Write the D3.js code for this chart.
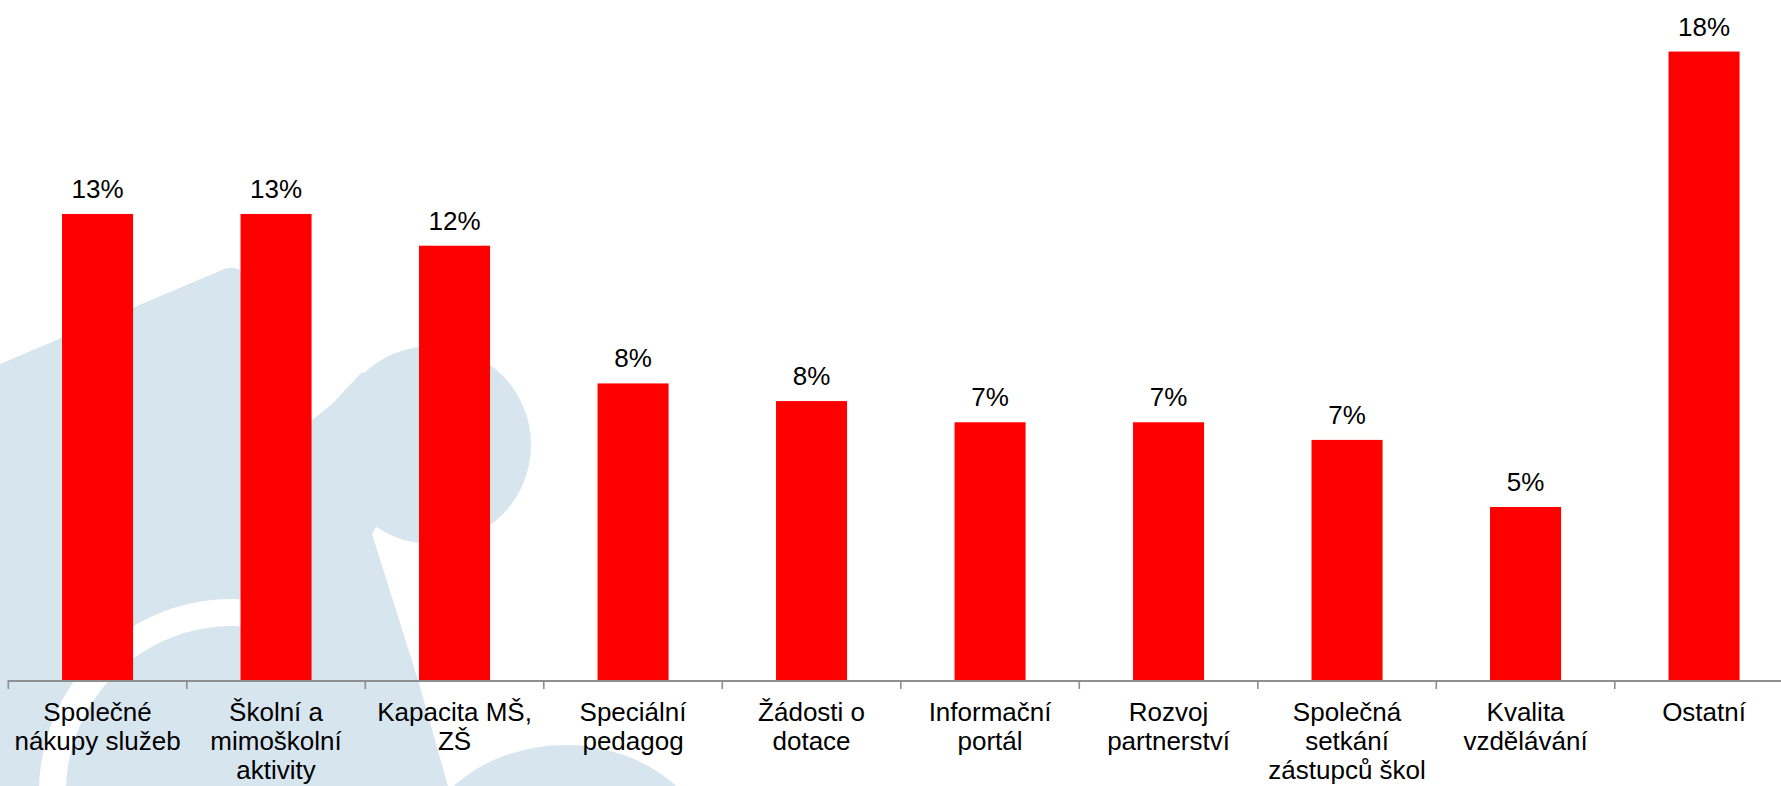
<!DOCTYPE html>
<html>
<head>
<meta charset="utf-8">
<script src="https://cdn.jsdelivr.net/npm/d3@7"></script>
<style>
	body { margin:0; background:#fff; }
	svg { display:block; }
</style>
</head>
<body>
<svg class="chart" width="1781" height="786"></svg>
<script>

// categories (line breaks as in the picture)
var categories = [
	'Společné|nákupy služeb',
	'Školní a|mimoškolní|aktivity',
	'Kapacita MŠ,|ZŠ',
	'Speciální|pedagog',
	'Žádosti o|dotace',
	'Informační|portál',
	'Rozvoj|partnerství',
	'Společná|setkání|zástupců škol',
	'Kvalita|vzdělávání',
	'Ostatní'
];

// share of answers, %
var values = [13.2, 13.2, 12.3, 8.4, 7.9, 7.3, 7.3, 6.8, 4.9, 17.8];

var yMax = 19.26;


var config = {
	width: 1781,
	height: 786,
	baseline: 680,
	left: 8.3,
	step: 178.5,
	barRatio: 0.398,
	font: '"Liberation Sans", Arial, sans-serif',
	fontSize: 26,
	barColor: '#ff0000',
	axisColor: '#8f8f8f',
	markColor: '#d7e5ef'
};

var svg = d3.select('.chart');

svg.append('rect')
	.attr('width',config.width)
	.attr('height',config.height)
	.attr('fill','#fff');

//background watermark
var mark = svg.append('g').attr('fill',config.markColor);

mark.append('path')
	.attr('d','M0,364 L222,270 Q240,262 250,282 L312,420 L332,404 L362,372 L380,380 '
		+'L380,520 L372,534 L418,680 L448,786 L0,786 Z');

mark.append('circle')
	.attr('cx',432)
	.attr('cy',445)
	.attr('r',99);

mark.append('ellipse')
	.attr('cx',565)
	.attr('cy',870)
	.attr('rx',150)
	.attr('ry',125);

// white ring cut through the lower left
var ring = d3.arc()
	.innerRadius(166)
	.outerRadius(193)
	.startAngle(-Math.PI*0.62)
	.endAngle(Math.PI*0.05);

svg.append('path')
	.attr('d',ring())
	.attr('transform','translate(232,792)')
	.attr('fill','#fff');


var xScale = d3.scaleBand()
	.domain(categories)
	.range([config.left, config.left+config.step*categories.length])
	.padding(0);

var yScale = d3.scaleLinear()
	.domain([0,yMax])
	.range([config.baseline,0]);

var barW = xScale.bandwidth()*config.barRatio;

var chart = svg.append('g');

//axis
chart.append('line')
	.attr('x1',config.left)
	.attr('x2',config.width)
	.attr('y1',config.baseline+1)
	.attr('y2',config.baseline+1)
	.attr('stroke',config.axisColor)
	.attr('stroke-width',2);

chart.selectAll('.tick-mark')
	.data(categories)
	.enter()
	.append('line')
	.attr('class','tick-mark')
	.attr('x1',d=>xScale(d))
	.attr('x2',d=>xScale(d))
	.attr('y1',config.baseline)
	.attr('y2',config.baseline+9)
	.attr('stroke',config.axisColor)
	.attr('stroke-width',1.6);

var barGroups = chart.selectAll('.bar')
	.data(categories.map((c,i)=>({c:c,v:values[i]})))
	.enter()
	.append('g')
	.attr('class','bar')
	.attr('transform',d=>'translate('+(xScale(d.c)+xScale.bandwidth()/2)+',0)');

barGroups.append('rect')
	.attr('x',-barW/2)
	.attr('width',barW)
	.attr('y',d=>yScale(d.v))
	.attr('height',d=>config.baseline-yScale(d.v))
	.attr('fill',config.barColor);

barGroups.append('text')
	.text(d=>Math.round(d.v)+'%')
	.attr('y',d=>yScale(d.v)-16)
	.attr('text-anchor','middle')
	.attr('font-family',config.font)
	.attr('font-size',config.fontSize)
	.attr('fill','#000');

var catText = barGroups.append('text')
	.attr('text-anchor','middle')
	.attr('font-family',config.font)
	.attr('font-size',config.fontSize)
	.attr('fill','#000');

catText.selectAll('tspan')
	.data(d=>d.c.split('|'))
	.enter()
	.append('tspan')
	.attr('x',0)
	.attr('y',(d,i)=>config.baseline+41+i*29)
	.text(d=>d);

</script>
</body>
</html>
